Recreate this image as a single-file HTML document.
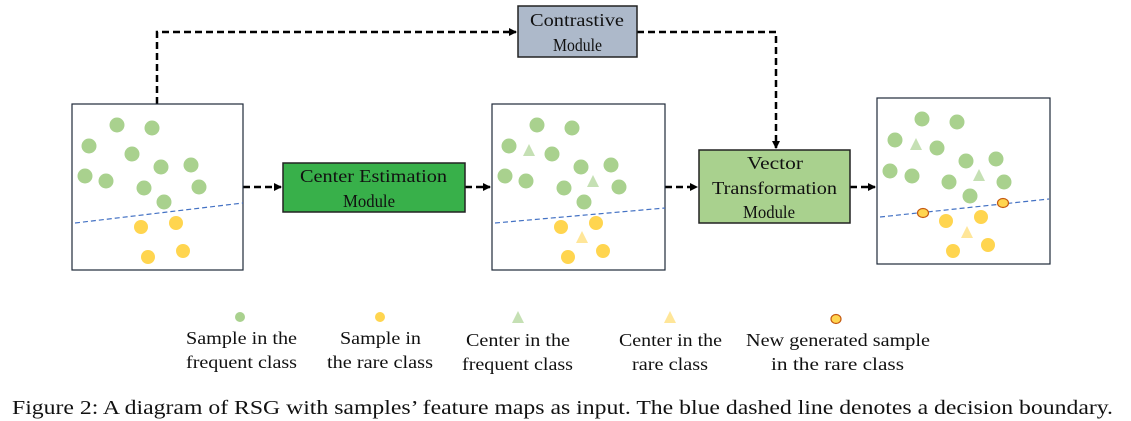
<!DOCTYPE html>
<html><head><meta charset="utf-8"><style>
html,body{margin:0;padding:0;background:#fff;}
svg{display:block;}
text{font-family:"Liberation Serif","Times New Roman","Nimbus Roman","FreeSerif",serif;fill:#111;}
</style></head><body>
<svg width="1131" height="421" viewBox="0 0 1131 421" xmlns="http://www.w3.org/2000/svg" font-family="Liberation Serif, Times New Roman, serif">
<defs>
<marker id="ar" markerWidth="8" markerHeight="8" refX="7" refY="4" orient="auto" markerUnits="userSpaceOnUse">
<path d="M0,0 L8,4 L0,8 z" fill="#000"/></marker>
<g id="freq">
<circle cx="117" cy="125" r="7.5"/><circle cx="152" cy="128" r="7.5"/><circle cx="89" cy="146" r="7.5"/>
<circle cx="132" cy="154" r="7.5"/><circle cx="161" cy="167" r="7.5"/><circle cx="191" cy="165" r="7.5"/>
<circle cx="85" cy="176" r="7.5"/><circle cx="106" cy="181" r="7.5"/><circle cx="144" cy="188" r="7.5"/>
<circle cx="199" cy="187" r="7.5"/><circle cx="164" cy="202" r="7.5"/>
</g>
<g id="rare">
<circle cx="141" cy="227" r="7"/><circle cx="176" cy="223" r="7"/><circle cx="148" cy="257" r="7"/><circle cx="183" cy="251" r="7"/>
</g>
</defs>

<g stroke="#000" stroke-width="2.5" stroke-dasharray="7,4" fill="none">
<path d="M157,104 V32 H516" marker-end="url(#ar)"/>
<path d="M637,32 H776 V148" marker-end="url(#ar)"/>
<path d="M243,187 H281" marker-end="url(#ar)"/>
<path d="M465,187 H490" marker-end="url(#ar)"/>
<path d="M665,187 H697" marker-end="url(#ar)"/>
<path d="M850,187 H875" marker-end="url(#ar)"/>
</g>

<rect x="72" y="104" width="171" height="166" fill="#fff" stroke="#1f2a3a" stroke-width="1.2"/>
<use href="#freq" fill="#a9d18e"/>
<use href="#rare" fill="#ffd54f"/>
<line x1="75" y1="223" x2="243" y2="203" stroke="#4472c4" stroke-width="1.2" stroke-dasharray="5,3"/>

<rect x="492" y="104" width="173" height="166" fill="#fff" stroke="#1f2a3a" stroke-width="1.2"/>
<g transform="translate(420,0)">
<use href="#freq" fill="#a9d18e"/>
<use href="#rare" fill="#ffd54f"/>
</g>
<polygon points="529,144 523,156 535,156" fill="#c5e0b4"/>
<polygon points="593,175 587,187 599,187" fill="#c5e0b4"/>
<polygon points="582,231 576,243 588,243" fill="#ffe699"/>
<line x1="495" y1="223" x2="665" y2="208" stroke="#4472c4" stroke-width="1.2" stroke-dasharray="5,3"/>

<rect x="877" y="98" width="173" height="166" fill="#fff" stroke="#1f2a3a" stroke-width="1.2"/>
<g fill="#a9d18e">
<circle cx="922" cy="119" r="7.5"/><circle cx="957" cy="122" r="7.5"/><circle cx="895" cy="140" r="7.5"/>
<circle cx="937" cy="148" r="7.5"/><circle cx="966" cy="161" r="7.5"/><circle cx="996" cy="159" r="7.5"/>
<circle cx="890" cy="171" r="7.5"/><circle cx="912" cy="176" r="7.5"/><circle cx="949" cy="182" r="7.5"/>
<circle cx="1004" cy="182" r="7.5"/><circle cx="970" cy="196" r="7.5"/>
</g>
<polygon points="916,138 910,150 922,150" fill="#c5e0b4"/>
<polygon points="979,169 973,181 985,181" fill="#c5e0b4"/>
<line x1="880" y1="217" x2="1049" y2="199" stroke="#4472c4" stroke-width="1.2" stroke-dasharray="5,3"/>
<g fill="#ffd54f">
<circle cx="946" cy="221" r="7"/><circle cx="981" cy="217" r="7"/><circle cx="953" cy="251" r="7"/><circle cx="988" cy="245" r="7"/>
</g>
<polygon points="967,226 961,238 973,238" fill="#ffe699"/>
<ellipse cx="923" cy="213" rx="5.5" ry="4.5" fill="#ffd54f" stroke="#c55a11" stroke-width="1.2"/>
<ellipse cx="1003" cy="203" rx="5.5" ry="4.5" fill="#ffd54f" stroke="#c55a11" stroke-width="1.2"/>

<rect x="283" y="163" width="182" height="49" fill="#38b04a" stroke="#222" stroke-width="1.5"/>
<text x="300" y="182" font-size="18" textLength="147" lengthAdjust="spacingAndGlyphs">Center Estimation</text>
<text x="343" y="207" font-size="18" textLength="52" lengthAdjust="spacingAndGlyphs">Module</text>

<rect x="518" y="6" width="119" height="51" fill="#adb9ca" stroke="#222" stroke-width="1.5"/>
<text x="530" y="26" font-size="18" textLength="94" lengthAdjust="spacingAndGlyphs">Contrastive</text>
<text x="553" y="51" font-size="18" textLength="49" lengthAdjust="spacingAndGlyphs">Module</text>

<rect x="699" y="150" width="151" height="73" fill="#a9d18e" stroke="#222" stroke-width="1.5"/>
<text x="747" y="169" font-size="18" textLength="56" lengthAdjust="spacingAndGlyphs">Vector</text>
<text x="712" y="194" font-size="18" textLength="125" lengthAdjust="spacingAndGlyphs">Transformation</text>
<text x="743" y="218" font-size="18" textLength="52" lengthAdjust="spacingAndGlyphs">Module</text>

<circle cx="240" cy="317" r="5" fill="#a9d18e"/>
<circle cx="380" cy="317" r="5" fill="#ffd54f"/>
<polygon points="518,311 512,323 524,323" fill="#c5e0b4"/>
<polygon points="670,311 664,323 676,323" fill="#ffe699"/>
<ellipse cx="836" cy="319" rx="5" ry="4.5" fill="#ffd54f" stroke="#c55a11" stroke-width="1.2"/>
<g font-size="18">
<text x="186" y="344" textLength="111" lengthAdjust="spacingAndGlyphs">Sample in the</text>
<text x="186" y="368" textLength="111" lengthAdjust="spacingAndGlyphs">frequent class</text>
<text x="340" y="344" textLength="81" lengthAdjust="spacingAndGlyphs">Sample in</text>
<text x="327" y="368" textLength="106" lengthAdjust="spacingAndGlyphs">the rare class</text>
<text x="466" y="346" textLength="104" lengthAdjust="spacingAndGlyphs">Center in the</text>
<text x="462" y="370" textLength="111" lengthAdjust="spacingAndGlyphs">frequent class</text>
<text x="619" y="346" textLength="103" lengthAdjust="spacingAndGlyphs">Center in the</text>
<text x="632" y="370" textLength="76" lengthAdjust="spacingAndGlyphs">rare class</text>
<text x="746" y="346" textLength="184" lengthAdjust="spacingAndGlyphs">New generated sample</text>
<text x="771" y="370" textLength="133" lengthAdjust="spacingAndGlyphs">in the rare class</text>
</g>

<text x="12" y="414" font-size="20" textLength="1101" lengthAdjust="spacingAndGlyphs">Figure 2: A diagram of RSG with samples’ feature maps as input. The blue dashed line denotes a decision boundary.</text>
</svg>
</body></html>
